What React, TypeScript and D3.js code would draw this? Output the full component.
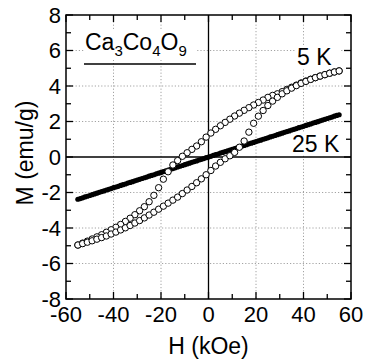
import React from "react";
import * as d3 from "d3";

// Magnetization loops of Ca3Co4O9: field H (kOe) vs. magnetization M (emu/g)

// 5 K, field sweeping down from +55 kOe (upper branch)
const fieldDown5K = [
  55, 53, 51, 49, 47, 45, 43, 41, 39, 37, 35, 33, 31, 29, 27, 25, 23, 21, 19, 17, 15, 13, 11, 9, 7, 5, 3, 1,
  -1, -3, -5, -7, -9, -11, -13, -15, -17, -19, -21, -23, -25, -27, -29, -31, -33, -35, -37, -39, -41, -43,
  -45, -47, -49, -51, -53, -55,
];
const momentDown5K = [
  4.85, 4.79, 4.72, 4.64, 4.56, 4.47, 4.38, 4.28, 4.17, 4.05, 3.93, 3.81, 3.68, 3.56, 3.47, 3.36, 3.21, 3.07,
  2.93, 2.78, 2.63, 2.47, 2.31, 2.13, 1.95, 1.76, 1.56, 1.35, 1.12, 0.86, 0.62, 0.43, 0.24, 0.04, -0.2, -0.45,
  -0.83, -1.25, -1.73, -2.16, -2.52, -2.8, -3.03, -3.25, -3.45, -3.63, -3.8, -3.96, -4.1, -4.24, -4.38, -4.5,
  -4.62, -4.74, -4.85, -4.96,
];

// 5 K, field sweeping up from -55 kOe (lower branch)
const fieldUp5K = [
  -55, -53, -51, -49, -47, -45, -43, -41, -39, -37, -35, -33, -31, -29, -27, -25, -23, -21, -19, -17, -15,
  -13, -11, -9, -7, -5, -3, -1, 1, 3, 5, 7, 9, 11, 13, 15, 17, 19, 21, 23, 25, 27, 29, 31, 33, 35, 37, 39,
  41, 43, 45, 47, 49, 51, 53, 55,
];
const momentUp5K = [
  -4.96, -4.88, -4.8, -4.72, -4.63, -4.54, -4.45, -4.34, -4.23, -4.11, -3.99, -3.86, -3.72, -3.58, -3.43,
  -3.27, -3.11, -2.94, -2.77, -2.6, -2.43, -2.26, -2.06, -1.86, -1.66, -1.45, -1.23, -1.0, -0.76, -0.51,
  -0.3, -0.1, 0.07, 0.26, 0.55, 0.9, 1.4, 1.9, 2.3, 2.62, 2.9, 3.15, 3.36, 3.56, 3.73, 3.88, 4.02, 4.15,
  4.26, 4.37, 4.47, 4.56, 4.64, 4.72, 4.79, 4.85,
];

// 25 K, dense field sweep
const field25K = [
  -55, -54, -53, -52, -51, -50, -49, -48, -47, -46, -45, -44, -43, -42, -41, -40, -39, -38, -37, -36, -35,
  -34, -33, -32, -31, -30, -29, -28, -27, -26, -25, -24, -23, -22, -21, -20, -19, -18, -17, -16, -15, -14,
  -13, -12, -11, -10, -9, -8, -7, -6, -5, -4, -3, -2, -1, 0, 1, 2, 3, 4, 5, 6, 7, 8, 9, 10, 11, 12, 13, 14,
  15, 16, 17, 18, 19, 20, 21, 22, 23, 24, 25, 26, 27, 28, 29, 30, 31, 32, 33, 34, 35, 36, 37, 38, 39, 40,
  41, 42, 43, 44, 45, 46, 47, 48, 49, 50, 51, 52, 53, 54, 55,
];
const moment25K = [
  -2.38, -2.34, -2.3, -2.25, -2.21, -2.17, -2.12, -2.08, -2.04, -1.99, -1.95, -1.91, -1.86, -1.82, -1.78,
  -1.73, -1.69, -1.65, -1.6, -1.56, -1.52, -1.47, -1.43, -1.39, -1.34, -1.3, -1.26, -1.21, -1.17, -1.13,
  -1.08, -1.04, -1.0, -0.95, -0.91, -0.87, -0.82, -0.78, -0.74, -0.69, -0.65, -0.61, -0.56, -0.52, -0.48,
  -0.43, -0.39, -0.35, -0.3, -0.26, -0.22, -0.17, -0.13, -0.09, -0.04, 0.0, 0.04, 0.09, 0.13, 0.17, 0.22,
  0.26, 0.3, 0.35, 0.39, 0.43, 0.48, 0.52, 0.56, 0.61, 0.65, 0.69, 0.74, 0.78, 0.82, 0.87, 0.91, 0.95, 1.0,
  1.04, 1.08, 1.13, 1.17, 1.21, 1.26, 1.3, 1.34, 1.39, 1.43, 1.47, 1.52, 1.56, 1.6, 1.65, 1.69, 1.73, 1.78,
  1.82, 1.86, 1.91, 1.95, 1.99, 2.04, 2.08, 2.12, 2.17, 2.21, 2.25, 2.3, 2.34, 2.38,
];

const xTickLabels = [-60, -40, -20, 0, 20, 40, 60];
const yTickLabels = [-8, -6, -4, -2, 0, 2, 4, 6, 8];
const xMinorTicks = [-50, -30, -10, 10, 30, 50];
const yMinorTicks = [-7, -5, -3, -1, 1, 3, 5, 7];

const W = 365;
const H = 362;
const plot = { left: 66, right: 351, top: 15, bottom: 299 };
const FONT = "'Liberation Sans', Arial, Helvetica, sans-serif";

export default function App() {
  const x = d3.scaleLinear().domain([-60, 60]).range([plot.left, plot.right]);
  const y = d3.scaleLinear().domain([-8, 8]).range([plot.bottom, plot.top]);

  const major = 7;
  const minor = 5;

  const loop5K = [
    ...fieldDown5K.map((h, i) => ({ h, m: momentDown5K[i] })),
    ...fieldUp5K.map((h, i) => ({ h, m: momentUp5K[i] })),
  ];
  const line25K = field25K.map((h, i) => ({ h, m: moment25K[i] }));

  const gridX = xTickLabels.filter((v) => v !== 0 && v !== -60 && v !== 60);
  const gridY = yTickLabels.filter((v) => v !== 0 && v !== -8 && v !== 8);

  return (
    <svg
      width={W}
      height={H}
      style={{ position: "absolute", left: 0, top: 0, background: "#fff" }}
      fontFamily={FONT}
    >
      <rect x={0} y={0} width={W} height={H} fill="#fff" />

      {/* dotted grid */}
      <g stroke="#8c8c8c" strokeWidth={0.8} strokeDasharray="1.2,2">
        {gridX.map((v) => (
          <line key={"gx" + v} x1={x(v)} x2={x(v)} y1={plot.top} y2={plot.bottom} />
        ))}
        {gridY.map((v) => (
          <line key={"gy" + v} x1={plot.left} x2={plot.right} y1={y(v)} y2={y(v)} />
        ))}
      </g>

      {/* zero lines */}
      <g stroke="#000" strokeWidth={1.3}>
        <line x1={x(0)} x2={x(0)} y1={plot.top} y2={plot.bottom} />
        <line x1={plot.left} x2={plot.right} y1={y(0)} y2={y(0)} />
      </g>

      {/* labels with white backing */}
      <g>
        <rect x={84} y={30} width={112} height={30} fill="#fff" />
        <text x={85} y={50} fontSize={23} fill="#000">
          Ca<tspan fontSize={15} dy={6}>3</tspan>
          <tspan dy={-6}>Co</tspan>
          <tspan fontSize={15} dy={6}>4</tspan>
          <tspan dy={-6}>O</tspan>
          <tspan fontSize={15} dy={6}>9</tspan>
        </text>
        <line x1={84} x2={196} y1={64} y2={64} stroke="#000" strokeWidth={1.3} />

        <rect x={295} y={46} width={46} height={22} fill="#fff" />
        <text x={297} y={65} fontSize={23} fill="#000">
          5 K
        </text>
        <rect x={290} y={133} width={51} height={22} fill="#fff" />
        <text x={292} y={152} fontSize={23} fill="#000">
          25 K
        </text>
      </g>

      {/* 25 K: filled dots */}
      <g fill="#000">
        {line25K.map((d, i) => (
          <circle key={"f" + i} cx={x(d.h)} cy={y(d.m)} r={2.6} />
        ))}
      </g>

      {/* 5 K: open circles */}
      <g fill="#fff" stroke="#000" strokeWidth={1}>
        {loop5K.map((d, i) => (
          <circle key={"o" + i} cx={x(d.h)} cy={y(d.m)} r={3.2} />
        ))}
      </g>

      {/* frame and inward ticks */}
      <g stroke="#000" strokeWidth={1.3}>
        {xTickLabels.map((v) => (
          <g key={"xt" + v}>
            <line x1={x(v)} x2={x(v)} y1={plot.bottom} y2={plot.bottom - major} />
            <line x1={x(v)} x2={x(v)} y1={plot.top} y2={plot.top + major} />
          </g>
        ))}
        {xMinorTicks.map((v) => (
          <g key={"xm" + v}>
            <line x1={x(v)} x2={x(v)} y1={plot.bottom} y2={plot.bottom - minor} />
            <line x1={x(v)} x2={x(v)} y1={plot.top} y2={plot.top + minor} />
          </g>
        ))}
        {yTickLabels.map((v) => (
          <g key={"yt" + v}>
            <line x1={plot.left} x2={plot.left + major} y1={y(v)} y2={y(v)} />
            <line x1={plot.right} x2={plot.right - major} y1={y(v)} y2={y(v)} />
          </g>
        ))}
        {yMinorTicks.map((v) => (
          <g key={"ym" + v}>
            <line x1={plot.left} x2={plot.left + minor} y1={y(v)} y2={y(v)} />
            <line x1={plot.right} x2={plot.right - minor} y1={y(v)} y2={y(v)} />
          </g>
        ))}
        <rect
          x={plot.left}
          y={plot.top}
          width={plot.right - plot.left}
          height={plot.bottom - plot.top}
          fill="none"
          strokeWidth={1.5}
        />
      </g>

      {/* tick labels */}
      <g fontSize={22} fill="#000">
        {xTickLabels.map((v) => (
          <text key={"xl" + v} x={x(v)} y={322} textAnchor="middle">
            {v}
          </text>
        ))}
        {yTickLabels.map((v) => (
          <text key={"yl" + v} x={61} y={y(v)} dy="0.36em" textAnchor="end">
            {v}
          </text>
        ))}
      </g>

      {/* axis titles */}
      <text x={x(0)} y={354} fontSize={23} textAnchor="middle" fill="#000">
        H (kOe)
      </text>
      <text
        transform={`translate(33,${(plot.top + plot.bottom) / 2 - 4}) rotate(-90)`}
        fontSize={23}
        textAnchor="middle"
        fill="#000"
      >
        M (emu/g)
      </text>
    </svg>
  );
}
